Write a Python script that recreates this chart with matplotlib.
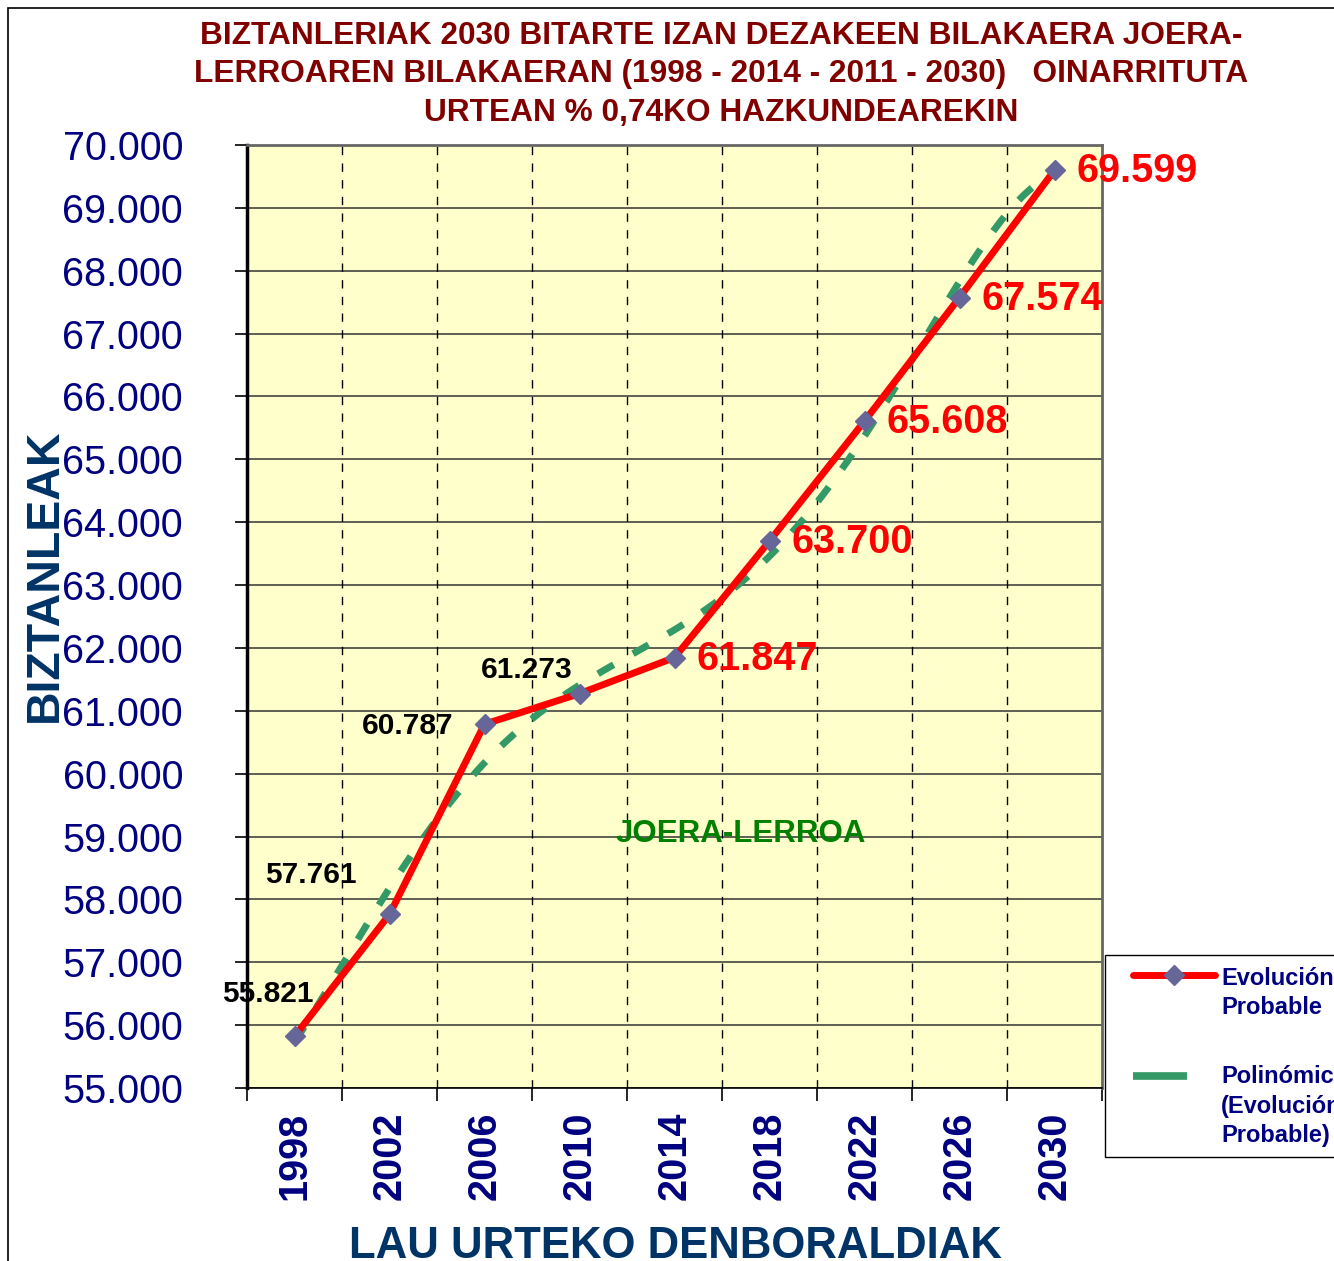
import numpy as np
import matplotlib
matplotlib.use("Agg")
import matplotlib.pyplot as plt
from matplotlib.lines import Line2D
from matplotlib.patches import Rectangle

plt.rcParams['font.family'] = ['Liberation Sans', 'DejaVu Sans']

years = ["1998", "2002", "2006", "2010", "2014", "2018", "2022", "2026", "2030"]
population = [55821, 57761, 60787, 61273, 61847, 63700, 65608, 67574, 69599]
labels = ["55.821", "57.761", "60.787", "61.273", "61.847", "63.700", "65.608", "67.574", "69.599"]
y_ticks = [55000, 56000, 57000, 58000, 59000, 60000, 61000, 62000, 63000, 64000,
           65000, 66000, 67000, 68000, 69000, 70000]
y_tick_labels = ["55.000", "56.000", "57.000", "58.000", "59.000", "60.000", "61.000", "62.000",
                 "63.000", "64.000", "65.000", "66.000", "67.000", "68.000", "69.000", "70.000"]
trend_order = 5

W, H = 1334, 1261
fig = plt.figure(figsize=(W / 100, H / 100), dpi=100)
fig.patch.set_facecolor('white')

# outer chart border
fig.add_artist(Rectangle((8 / W, -0.01), 1.2, 1 - 8 / H + 0.01, transform=fig.transFigure,
                         fill=False, edgecolor='black', lw=1.2))

ax = fig.add_axes([247 / W, 1 - 1088 / H, 855 / W, (1088 - 145) / H])
ax.set_facecolor('#FFFFCC')

x = np.arange(len(years))
ax.set_xlim(-0.5, len(years) - 0.5)
ax.set_ylim(55000, 70000)

# polynomial trendline (Excel "Polinómica") computed from the data
coef = np.polyfit(x + 1, population, trend_order)
xt = np.linspace(0, len(years) - 1, 400)
yt = np.polyval(coef, xt + 1)
ax.plot(xt, yt, color='#339966', lw=5, dashes=(2.6, 3.2), zorder=3, solid_capstyle='butt')

ax.plot(x, population, color='#FF0000', lw=5, zorder=4, solid_capstyle='round')
ax.plot(x, population, ls='none', marker='D', markersize=10.5, color='#666699', zorder=5)

# gridlines
for yv in y_ticks:
    ax.axhline(yv, color='#333333', lw=1.1, zorder=1)
for b in np.arange(0.5, len(years) - 1, 1):
    ax.axvline(b, color='black', lw=1.0, dashes=(6, 6), zorder=1)

# ticks
ax.set_yticks(y_ticks)
ax.set_yticklabels(y_tick_labels, fontsize=28.5, color='#000080')
ax.tick_params(axis='y', direction='out', length=9, width=1.2, pad=37, color='black')

ax.set_xticks(np.arange(-0.5, len(years), 1))
ax.set_xticklabels([])
ax.tick_params(axis='x', direction='out', length=9, width=1.2, color='black')
ax.set_xticks(x, minor=True)
ax.set_xticklabels(years, minor=True, rotation=90, fontsize=28.5, fontweight='bold', color='#000080')
ax.tick_params(axis='x', which='minor', length=0, pad=17)

ax.spines['left'].set_linewidth(2.5)
ax.spines['left'].set_color('black')
ax.spines['bottom'].set_linewidth(1.2)
ax.spines['top'].set_color('#666666')
ax.spines['top'].set_linewidth(2)
ax.spines['right'].set_color('#666666')
ax.spines['right'].set_linewidth(2)

# data labels
offsets = [(-27, 42), (-79, 39), (-77, -2), (-53, 24)]
for i in range(len(population)):
    if i < 4:
        dx, dy = offsets[i]
        ax.annotate(labels[i], (x[i], population[i]), xytext=(dx * 0.72, dy * 0.72),
                    textcoords='offset points', ha='center', va='center',
                    fontsize=21.5, fontweight='bold', color='black', zorder=6)
    else:
        ax.annotate(labels[i], (x[i], population[i]), xytext=(22 * 0.72, -1 * 0.72),
                    textcoords='offset points', ha='left', va='center',
                    fontsize=28.5, fontweight='bold', color='#FF0000', zorder=6)

fig.text(741 / W, 1 - 834 / H, "JOERA-LERROA", ha='center', va='center',
         fontsize=22.5, fontweight='bold', color='#008000')

# title
title_lines = ["BIZTANLERIAK 2030 BITARTE IZAN DEZAKEEN BILAKAERA JOERA-",
               "LERROAREN BILAKAERAN (1998 - 2014 - 2011 - 2030)   OINARRITUTA",
               "URTEAN % 0,74KO HAZKUNDEAREKIN"]
for line, yy in zip(title_lines, [36, 74, 113]):
    fig.text(721 / W, 1 - yy / H, line, ha='center', va='center', fontsize=22.8,
             fontweight='bold', color='#800000')

# axis titles
fig.text(45 / W, 1 - 575 / H, "BIZTANLEAK", rotation=90, ha='center', va='center',
         fontsize=33.5, fontweight='bold', color='#003366')
fig.text(675 / W, 1 - 1247 / H, "LAU URTEKO DENBORALDIAK", ha='center', va='center',
         fontsize=31.5, fontweight='bold', color='#003366')

# legend box (partly off the figure, like the reference)
fig.add_artist(Rectangle((1105 / W, 1 - 1157 / H), 300 / W, (1157 - 955) / H, transform=fig.transFigure,
                         facecolor='white', edgecolor='black', lw=1.0, zorder=10))
fig.add_artist(Line2D([1133 / W, 1215 / W], [1 - 975 / H, 1 - 975 / H], transform=fig.transFigure,
                      color='#FF0000', lw=5, solid_capstyle='round', zorder=11))
fig.add_artist(Line2D([1174 / W], [1 - 975 / H], transform=fig.transFigure, ls='none',
                      marker='D', markersize=10.5, color='#666699', zorder=12))
fig.add_artist(Line2D([1133 / W, 1187 / W], [1 - 1076 / H, 1 - 1076 / H], transform=fig.transFigure,
                      color='#339966', lw=5.5, solid_capstyle='butt', zorder=11))
t1 = fig.text(1221 / W, 1 - 993 / H, "Evolución\nProbable", ha='left', va='center', fontsize=17,
              fontweight='bold', color='#000080', zorder=12, linespacing=1.35)
t2 = fig.text(1221 / W, 1 - 1106 / H, "Polinómica\n(Evolución\nProbable)", ha='left', va='center',
              fontsize=17, fontweight='bold', color='#000080', zorder=12, linespacing=1.35)

fig.savefig("out.png", dpi=100)
